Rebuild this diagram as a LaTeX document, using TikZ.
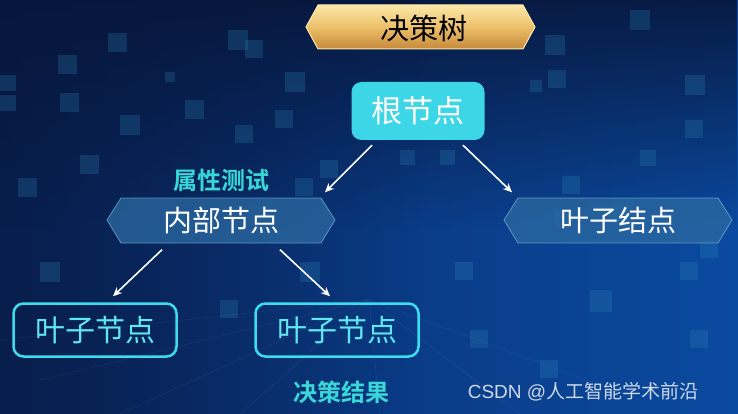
\documentclass[tikz,border=0pt]{standalone}
\usepackage{fontspec}
\newfontfamily\cjk{Noto Sans CJK SC}
\newfontfamily\cjkb{Noto Sans CJK SC Bold}
\setmainfont{Liberation Sans}
\usetikzlibrary{arrows.meta,calc,fadings}
\definecolor{bgdark}{HTML}{07163A}
\definecolor{bgleft}{HTML}{0A2A66}
\definecolor{bgright}{HTML}{0A4AA0}
\definecolor{cyanfill}{HTML}{3DD6E6}
\definecolor{cyanline}{HTML}{3CDDEE}
\definecolor{cyantext}{HTML}{5FE6EE}
\definecolor{tealtext}{HTML}{38D8D8}
\definecolor{hexfill}{HTML}{2C6AA2}
\definecolor{hexline}{HTML}{6FA6CF}
\definecolor{goldtop}{HTML}{FBE8A8}
\definecolor{goldmid}{HTML}{EDC06A}
\definecolor{goldbot}{HTML}{C6893A}
\definecolor{sq}{HTML}{2E86B8}
\tikzfading[name=fadedown, top color=transparent!0, bottom color=transparent!100]
\tikzfading[name=faderight, left color=transparent!0, right color=transparent!100]
\tikzset{
  rootbox/.style={rounded corners=10pt, fill=cyanfill, minimum width=133pt, minimum height=58pt, inner sep=0pt, text=white, font=\cjk\fontsize{31}{31}\selectfont},
  leafbox/.style={rounded corners=10pt, draw=cyanline, line width=2.5pt, minimum width=163pt, minimum height=53pt, inner sep=0pt, text=cyantext, font=\cjk\fontsize{30}{30}\selectfont},
  hextext/.style={minimum width=228pt, minimum height=45pt, inner sep=0pt, text=white, font=\cjk\fontsize{29}{29}\selectfont},
  hexshape/.style={fill=hexfill, fill opacity=0.75, draw=hexline, draw opacity=0.8, line width=0.8pt},
  arr/.style={draw=white, line width=1.6pt, -{Stealth[length=9pt,width=8pt]}},
  labeltext/.style={text=tealtext, font=\cjkb\fontsize{24}{24}\selectfont},
  sqr/.style={fill=sq, fill opacity=0.25}
}
\begin{document}
\begin{tikzpicture}[x=1pt,y=-1pt]
\useasboundingbox (0,0) rectangle (738,414);
% background
\shade[left color=bgleft, right color=bgright] (0,0) rectangle (738,414);
\fill[bgdark, path fading=fadedown, opacity=0.9] (0,0) rectangle (738,230);
\fill[bgdark, path fading=faderight, opacity=0.6] (0,0) rectangle (420,414);
% decorative squares
\foreach \x/\y/\s in {108/33/19, 58/55/19, 228/30/20, 245/40/18, 60/93/19, 285/72/20, 165/72/10,
  0/75/16, 0/95/16, 185/100/19, 120/115/20, 275/110/18, 80/155/19, 18/178/19, 295/178/18,
  235/125/18, 400/150/15, 440/150/15, 320/160/18, 545/35/20, 530/80/12, 685/75/20, 685/120/18,
  700/240/18, 548/70/18, 562/176/18, 640/150/16, 40/262/20, 300/262/20, 455/262/18, 680/262/18,
  555/210/18, 610/205/18, 590/290/22, 220/300/18, 470/330/18, 690/330/18, 540/360/18, 630/10/20}
  {\fill[sqr] (\x,\y) rectangle ++(\s,\s);}
% faint perspective lines
\foreach \a/\b in {0/340, 40/380, 120/414, 240/414, 380/414, 520/414, 640/400}
  {\draw[white, opacity=0.06, line width=0.6pt] (\a,\b) -- (369,300);}
% title banner
\shade[top color=goldtop, bottom color=goldbot, middle color=goldmid, draw=goldtop, line width=1pt]
  (306,27) -- (318,5) -- (523,5) -- (535,27) -- (523,49) -- (318,49) -- cycle;
\node[text=black, font=\cjk\fontsize{29}{29}\selectfont] (title) at (424,28) {决策树};
% root
\node[rootbox] (root) at (418,111) {根节点};
% hexagons
\path[hexshape] (107,220) -- (121,198) -- (321,198) -- (335,220) -- (321,243) -- (121,243) -- cycle;
\node[hextext] (inner) at (221,220) {内部节点};
\path[hexshape] (504,220) -- (518,198) -- (718,198) -- (732,220) -- (718,243) -- (518,243) -- cycle;
\node[hextext] (leafR) at (618,220) {叶子结点};
% bottom leaves
\node[leafbox] (leafL) at (95,330) {叶子节点};
\node[leafbox] (leafM) at (337,330) {叶子节点};
% labels
\node[labeltext] (test) at (221,180) {属性测试};
\node[labeltext] (result) at (341,392) {决策结果};
\node[text=white, opacity=0.8, font=\fontsize{19}{19}\selectfont] (wm) at (583,392) {CSDN @{\cjk 人工智能学术前沿}};
% arrows
\draw[arr] ($(root.south)+(-46,5)$) -- ($(inner.north)+(104,-5)$);
\draw[arr] ($(root.south)+(45,5)$) -- ($(leafR.north)+(-106,-5)$);
\draw[arr] ($(inner.south)+(-59,7)$) -- ($(leafL.north)+(18,-6)$);
\draw[arr] ($(inner.south)+(59,7)$) -- ($(leafM.north)+(-7,-6)$);
\end{tikzpicture}
\end{document}
